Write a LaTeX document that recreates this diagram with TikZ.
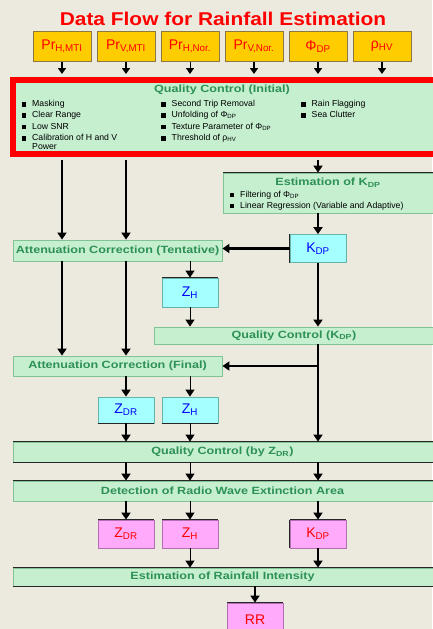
\documentclass[tikz,border=0pt]{standalone}
\usepackage{fontspec}
\setmainfont{Liberation Sans}
\usetikzlibrary{arrows.meta}
\definecolor{bg}{RGB}{236,234,222}
\definecolor{goldfill}{RGB}{255,204,0}
\definecolor{goldline}{RGB}{140,120,60}
\definecolor{qcfill}{RGB}{198,239,208}
\definecolor{qcline}{RGB}{130,195,150}
\definecolor{qctext}{RGB}{45,145,85}
\definecolor{cyanfill}{RGB}{165,255,255}
\definecolor{cyanline}{RGB}{100,180,170}
\definecolor{pinkfill}{RGB}{255,170,250}
\definecolor{pinkline}{RGB}{180,110,180}
\definecolor{framered}{RGB}{255,0,0}
\newcommand\blt{\rule{4.5pt}{4.5pt}\hspace{6pt}}
\newcommand\sub[1]{\textsubscript{#1}}
% stage headings are set wide
\newcommand\hd[1]{\scalebox{1.2}[1]{#1}}
\begin{document}
\begin{tikzpicture}[x=1pt,y=-1pt,
  box/.style={draw, inner sep=0pt, line width=0.8pt},
  gold/.style={box, fill=goldfill, draw=goldline, minimum width=58pt, minimum height=30pt,
    text=red, font=\fontsize{14}{14}\selectfont},
  stage/.style={box, fill=qcfill, draw=qcline, text=qctext, font=\bfseries\fontsize{10.5}{12}\selectfont},
  cyanbox/.style={box, fill=cyanfill, draw=cyanline, minimum width=56pt, text=blue,
    font=\fontsize{14}{14}\selectfont},
  pinkbox/.style={box, fill=pinkfill, draw=pinkline, minimum width=56pt, text=red,
    font=\fontsize{14}{14}\selectfont},
  items/.style={inner sep=0pt, align=left, text=black, font=\fontsize{8.7}{11.4}\selectfont},
  heading/.style={inner sep=0pt, text=qctext, font=\bfseries\fontsize{10.5}{12}\selectfont},
  flow/.style={line width=2.4pt, -{Triangle[width=9pt,length=7pt]}},
  thinflow/.style={line width=1pt, -{Triangle[width=9pt,length=7pt]}},
  smallflow/.style={line width=2pt, -{Triangle[width=8pt,length=6pt]}},
  darkedge/.style={line width=1.6pt, black!85}]
\fill[bg] (0,0) rectangle (432,629);
\useasboundingbox (0,0) rectangle (432,629);

% title
\node[inner sep=0pt, text=red, font=\bfseries\fontsize{18.5}{20}\selectfont] (title) at (223,19)
  {\scalebox{1.13}[1]{Data Flow for Rainfall Estimation}};

% input quantities
\node[gold] (p1) at (62,46.5) {Pr\sub{H,MTI}};
\node[gold] (p2) at (126,46.5) {Pr\sub{V,MTI}};
\node[gold] (p3) at (190,46.5) {Pr\sub{H,Nor.}};
\node[gold] (p4) at (254,46.5) {Pr\sub{V,Nor.}};
\node[gold] (p5) at (318,46.5) {Φ\sub{DP}};
\node[gold] (p6) at (382,46.5) {ρ\sub{HV}};

% initial quality control
\node[box, draw=framered, fill=qcfill, line width=6pt, minimum width=437pt, minimum height=74pt]
  (qc) at (231.5,117) {};
\node[heading] (qctitle) at (222,90) {\hd{Quality Control (Initial)}};
\node[items, anchor=north west] (qc1) at (21.5,100)
  {\blt Masking\\ \blt Clear Range\\ \blt Low SNR\\ \blt Calibration of H and V\\[-2.5pt] \hspace*{10.5pt}Power};
\node[items, anchor=north west] (qc2) at (161,100)
  {\blt Second Trip Removal\\ \blt Unfolding of Φ\sub{DP}\\ \blt Texture Parameter of Φ\sub{DP}\\ \blt Threshold of ρ\sub{HV}};
\node[items, anchor=north west] (qc3) at (301,100)
  {\blt Rain Flagging\\ \blt Sea Clutter};

% K_DP estimation
\node[stage, minimum width=211pt, minimum height=40pt] (estk) at (328.5,193) {};
\node[heading] (estktitle) at (328,183) {\hd{Estimation of K\sub{DP}}};
\node[items, anchor=north west] (estkitems) at (229.5,190.5)
  {\blt Filtering of Φ\sub{DP}\\ \blt Linear Regression (Variable and Adaptive)};
\node[cyanbox, minimum height=28pt] (kdp) at (318,248.5) {K\sub{DP}};

% attenuation correction and quality control stages
\node[stage, minimum width=209pt, minimum height=21pt] (att1) at (117.5,250.5) {\hd{Attenuation Correction (Tentative)}};
\node[cyanbox, minimum height=29pt] (zh1) at (190,292.5) {Z\sub{H}};
\node[stage, minimum width=280pt, minimum height=17pt] (qck) at (294,335.5) {\hd{Quality Control (K\sub{DP})}};
\node[stage, minimum width=209pt, minimum height=20pt] (att2) at (117.5,366) {\hd{Attenuation Correction (Final)}};
\node[cyanbox, minimum height=26pt] (zdr2) at (126,410) {Z\sub{DR}};
\node[cyanbox, minimum height=26pt] (zh2) at (190,410) {Z\sub{H}};
\node[stage, minimum width=421pt, minimum height=20pt] (qcz) at (223.5,452) {};
\node[heading] (qcztext) at (222.5,452) {\hd{Quality Control (by Z\sub{DR})}};
\node[stage, minimum width=421pt, minimum height=20pt] (det) at (223.5,491) {};
\node[heading] (dettext) at (222.5,491) {\hd{Detection of Radio Wave Extinction Area}};
\node[pinkbox, minimum height=28pt] (zdr3) at (126,534) {Z\sub{DR}};
\node[pinkbox, minimum height=28pt] (zh3) at (190,534) {Z\sub{H}};
\node[pinkbox, minimum height=28pt] (kdp3) at (318,534) {K\sub{DP}};
\node[stage, minimum width=421pt, minimum height=18pt] (rain) at (223.5,577) {};
\node[heading] (raintext) at (222.5,577) {\hd{Estimation of Rainfall Intensity}};
\node[pinkbox, minimum height=34pt] (rr) at (255,620) {RR};

% dark box edges
\draw[darkedge] (estk.north west) -- (estk.north east);
\draw[darkedge] (kdp.north west) -- (kdp.south west);
\draw[darkedge] (zh1.north west) -- (zh1.north east);
\draw[darkedge] (zdr2.south west) -- (zdr2.south east);
\draw[darkedge] (zh2.south west) -- (zh2.south east);
\draw[darkedge] (qcz.north west) -- (qcz.north east);
\draw[darkedge] (qcz.south west) -- (qcz.south east);
\draw[darkedge] (det.north west) -- (det.north east);
\draw[darkedge] (zdr3.north west) -- (zdr3.north east);
\draw[darkedge] (zh3.north west) -- (zh3.north east);
\draw[darkedge] (kdp3.north west) -- (kdp3.north east);
\draw[darkedge] (kdp3.north west) -- (kdp3.south west);
\draw[darkedge] (rain.north west) -- (rain.north east);
\draw[darkedge] (rain.south west) -- (rain.south east);
\draw[darkedge] (rr.north west) -- (rr.north east);

% inputs into the initial quality control
\foreach \p in {p1,p2,p4,p5,p6}
  \draw[smallflow, shorten >=3pt] (\p.south) -- (\p.south |- qc.north);
\draw[line width=1pt, -{Triangle[width=8pt,length=6pt]}, shorten >=3pt] (p3.south) -- (p3.south |- qc.north);

% power channels down the left
\draw[flow, shorten <=3pt] (qc.south -| p1) -- (att1.north -| p1);
\draw[flow, shorten <=3pt] (qc.south -| p2) -- (att1.north -| p2);
\draw[flow] (att1.south -| p1) -- (att2.north -| p1);
\draw[flow] (att1.south -| p2) -- (att2.north -| p2);

% K_DP branch
\draw[flow, shorten <=3pt] (qc.south -| kdp) -- (estk.north -| kdp);
\draw[flow] (estk.south -| kdp) -- (kdp.north);
\draw[flow] (kdp.west) -- (kdp.west -| att1.east);
\draw[flow] (kdp.south) -- (kdp.south |- qck.north);
\draw[thinflow] (att1.south -| zh1) -- (zh1.north);
\draw[thinflow] (zh1.south) -- (zh1.south |- qck.north);
\coordinate (split) at (kdp.south |- att2.east);
\draw[flow] (qck.south -| kdp) -- (qcz.north -| kdp);
\draw[flow] (split) -- (att2.east);

% corrected reflectivities
\draw[flow] (att2.south -| zdr2) -- (zdr2.north);
\draw[thinflow] (att2.south -| zh2) -- (zh2.north);
\draw[flow] (zdr2.south) -- (zdr2.south |- qcz.north);
\draw[thinflow] (zh2.south) -- (zh2.south |- qcz.north);

% extinction area detection
\draw[flow] (qcz.south -| zdr3) -- (det.north -| zdr3);
\draw[thinflow] (qcz.south -| zh3) -- (det.north -| zh3);
\draw[flow] (qcz.south -| kdp3) -- (det.north -| kdp3);
\draw[flow] (det.south -| zdr3) -- (zdr3.north);
\draw[thinflow] (det.south -| zh3) -- (zh3.north);
\draw[flow] (det.south -| kdp3) -- (kdp3.north);

% rainfall estimation
\draw[thinflow] (zh3.south) -- (zh3.south |- rain.north);
\draw[flow] (kdp3.south) -- (kdp3.south |- rain.north);
\draw[flow] (rain.south -| rr) -- (rr.north);
\end{tikzpicture}
\end{document}
